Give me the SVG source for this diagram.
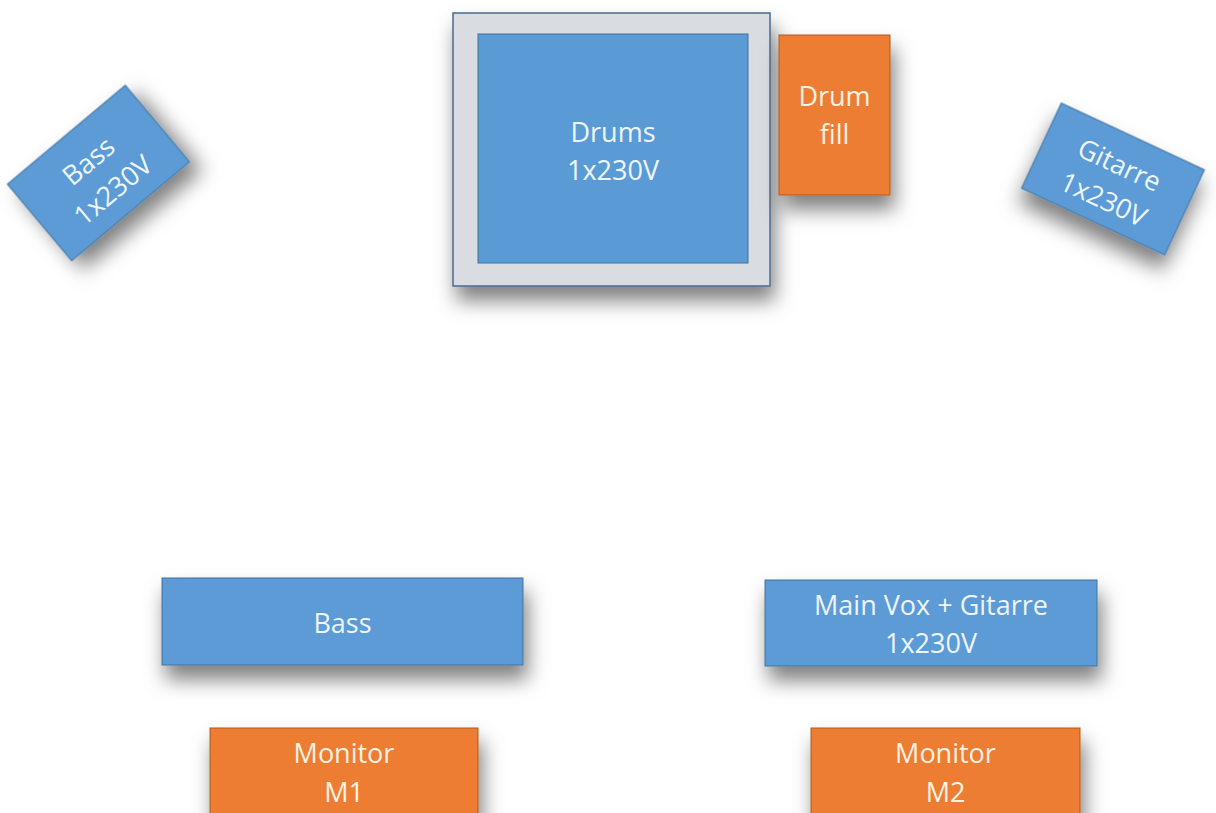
<svg xmlns="http://www.w3.org/2000/svg" width="1216" height="813" viewBox="0 0 1216 813">
<defs>
<filter id="sh" x="-25%" y="-25%" width="150%" height="190%">
<feDropShadow dx="4" dy="14" stdDeviation="10" flood-color="#000" flood-opacity="0.5"/>
</filter>
<style>
.blue{fill:#5b9bd5;stroke:#41719c;stroke-width:1}
.orange{fill:#ed7d31;stroke:#ae5a21;stroke-width:1}
.frame{fill:#d9dde2;stroke:#4a6a8c;stroke-width:1.5}
.t{font-family:"Open Sans","Liberation Sans",sans-serif;font-size:27px;fill:#eef6ff;text-anchor:middle}
.to{fill:#fff3e4}
</style>
</defs>
<rect width="1216" height="813" fill="#ffffff"/>
<g id="connectors"/>
<g id="bass-amp" transform="translate(98.5,173) rotate(-40)">
<rect class="blue" x="-77" y="-50" width="154" height="100" filter="url(#sh)"/>
<text class="t" x="0" y="-6">Bass</text>
<text class="t" x="0" y="32">1x230V</text>
</g>
<g id="drums">
<rect class="frame" x="453" y="13" width="317" height="273" filter="url(#sh)"/>
<rect class="blue" x="478" y="34" width="270" height="229"/>
<text class="t" x="613" y="142">Drums</text>
<text class="t" x="613" y="180">1x230V</text>
</g>
<g id="drum-fill">
<rect class="orange" x="779" y="35" width="111" height="160" filter="url(#sh)"/>
<text class="t to" x="834.5" y="106">Drum</text>
<text class="t to" x="834.5" y="144">fill</text>
</g>
<g id="gitarre-amp" transform="translate(1113,179) rotate(25)">
<rect class="blue" x="-79" y="-47" width="158" height="94" filter="url(#sh)"/>
<text class="t" x="0" y="-6">Gitarre</text>
<text class="t" x="0" y="32">1x230V</text>
</g>
<g id="bass-front">
<rect class="blue" x="162" y="578" width="361" height="87" filter="url(#sh)"/>
<text class="t" x="342.5" y="633">Bass</text>
</g>
<g id="main-vox">
<rect class="blue" x="765" y="580" width="332" height="86" filter="url(#sh)"/>
<text class="t" x="931" y="615">Main Vox + Gitarre</text>
<text class="t" x="931" y="653">1x230V</text>
</g>
<g id="monitor-m1">
<rect class="orange" x="210" y="728" width="268" height="100" filter="url(#sh)"/>
<text class="t to" x="344" y="763">Monitor</text>
<text class="t to" x="344" y="802">M1</text>
</g>
<g id="monitor-m2">
<rect class="orange" x="811" y="728" width="269" height="100" filter="url(#sh)"/>
<text class="t to" x="945.5" y="763">Monitor</text>
<text class="t to" x="945.5" y="802">M2</text>
</g>
</svg>
